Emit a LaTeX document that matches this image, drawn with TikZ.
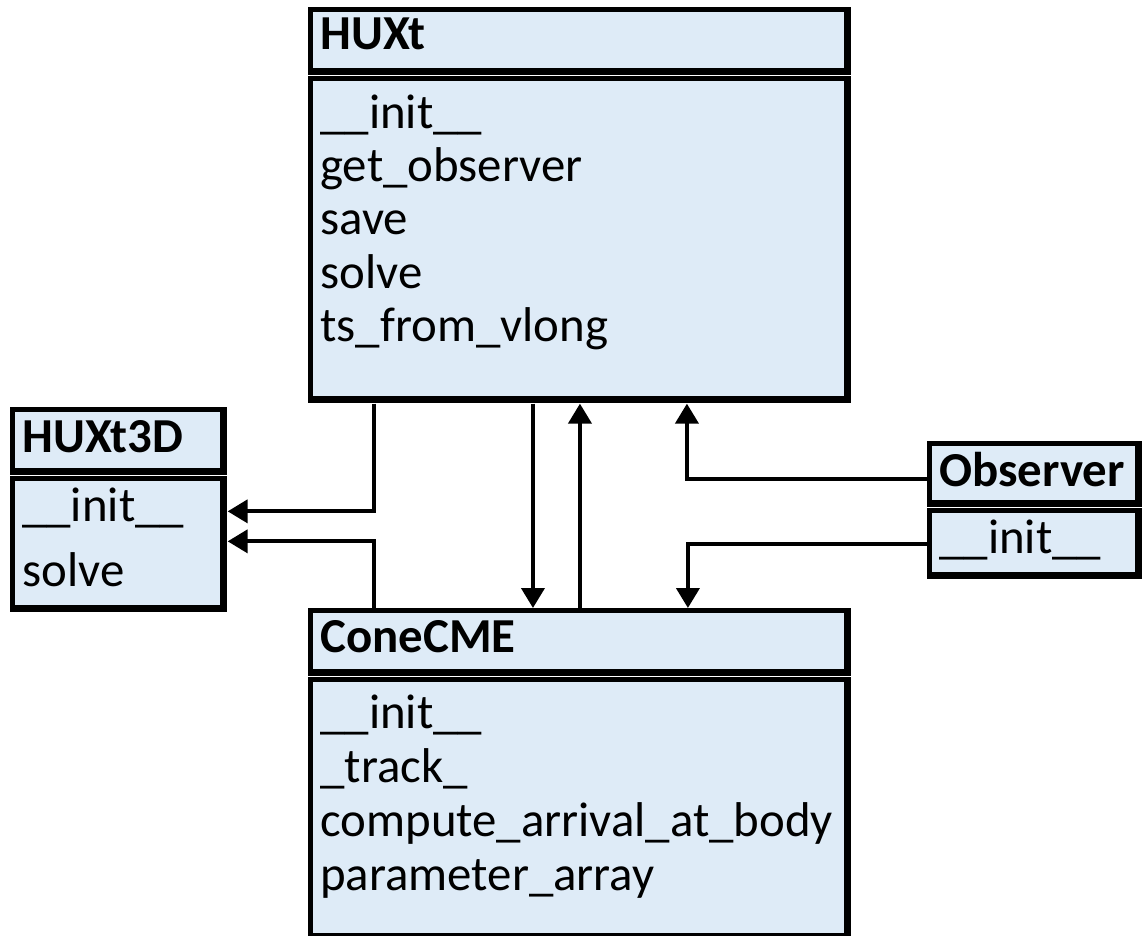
\documentclass[tikz,border=0pt]{standalone}
\usepackage{fontspec}
\setmainfont{Carlito}
\usetikzlibrary{arrows.meta}
\definecolor{boxblue}{HTML}{DEEBF7}
\tikzset{
  classbox/.style={rectangle, fill=black, inner sep=0, anchor=north west,
    path picture={\fill[boxblue] ([shift={(0.1cm,-0.1cm)}]path picture bounding box.north west)
      rectangle ([shift={(-0.14cm,0.14cm)}]path picture bounding box.south east);}},
  method/.style={anchor=base west, inner sep=0, font=\fontsize{27.8}{32}\selectfont},
  classname/.style={method, font=\fontsize{27.8}{32}\selectfont\bfseries},
  conn/.style={line width=0.08cm, -{Triangle[length=0.4cm, width=0.46cm]}}
}
\begin{document}
\begin{tikzpicture}[x=0.02cm, y=-0.02cm]
    \useasboundingbox (0,0) rectangle (1147,936);

    % Draw the class boxes
    \node[classbox, minimum width=10.86cm, minimum height=1.36cm] (huxthead) at (308,7) {};
    \node[classbox, minimum width=10.86cm, minimum height=6.54cm] (huxtbody) at (308,76) {};
    \node[classbox, minimum width=4.34cm, minimum height=1.36cm] (hx3head) at (10,407) {};
    \node[classbox, minimum width=4.34cm, minimum height=2.72cm] (hx3body) at (10,476) {};
    \node[classbox, minimum width=4.30cm, minimum height=1.32cm] (obshead) at (927,441) {};
    \node[classbox, minimum width=4.30cm, minimum height=1.42cm] (obsbody) at (927,508) {};
    \node[classbox, minimum width=10.86cm, minimum height=1.36cm] (conehead) at (308,608) {};
    \node[classbox, minimum width=10.86cm, minimum height=5.26cm] (conebody) at (308,677) {};

    % Class names
    \node[classname] (huxtname) at (320,50) {HUXt};
    \node[classname] (hx3name) at (22,452) {HUXt3D};
    \node[classname] (obsname) at (939,486) {Observer};
    \node[classname] (conename) at (320,652) {ConeCME};

    % Methods
    \foreach \m [count=\i] in {\_\_init\_\_, get\_observer, save, solve, ts\_from\_vlong}
        \node[method] (huxtm\i) at (320,{129+53*(\i-1)}) {\m};
    \node[method] (hx3m1) at (22,521) {\_\_init\_\_};
    \node[method] (hx3m2) at (22,586) {solve};
    \node[method] (obsm1) at (939,553) {\_\_init\_\_};
    \foreach \m [count=\i] in {\_\_init\_\_, \_track\_, compute\_arrival\_at\_body, parameter\_array}
        \node[method] (conem\i) at (320,{728+54*(\i-1)}) {\m};

    % Connectors
    \draw[conn] ([xshift=1.32cm]huxtbody.south west) |- ([yshift=0.66cm]hx3body.east);
    \draw[conn] ([xshift=1.32cm]conehead.north west) |- ([yshift=0.06cm]hx3body.east);
    \draw[conn] ([xshift=4.5cm]huxtbody.south west) -- ([xshift=4.5cm]conehead.north west);
    \draw[conn] ([xshift=5.44cm]conehead.north west) -- ([xshift=5.44cm]huxtbody.south west);
    \draw[conn] ([yshift=-0.1cm]obshead.west) -| ([xshift=7.58cm]huxtbody.south west);
    \draw[conn] (obsbody.west) -| ([xshift=7.6cm]conehead.north west);

\end{tikzpicture}
\end{document}
